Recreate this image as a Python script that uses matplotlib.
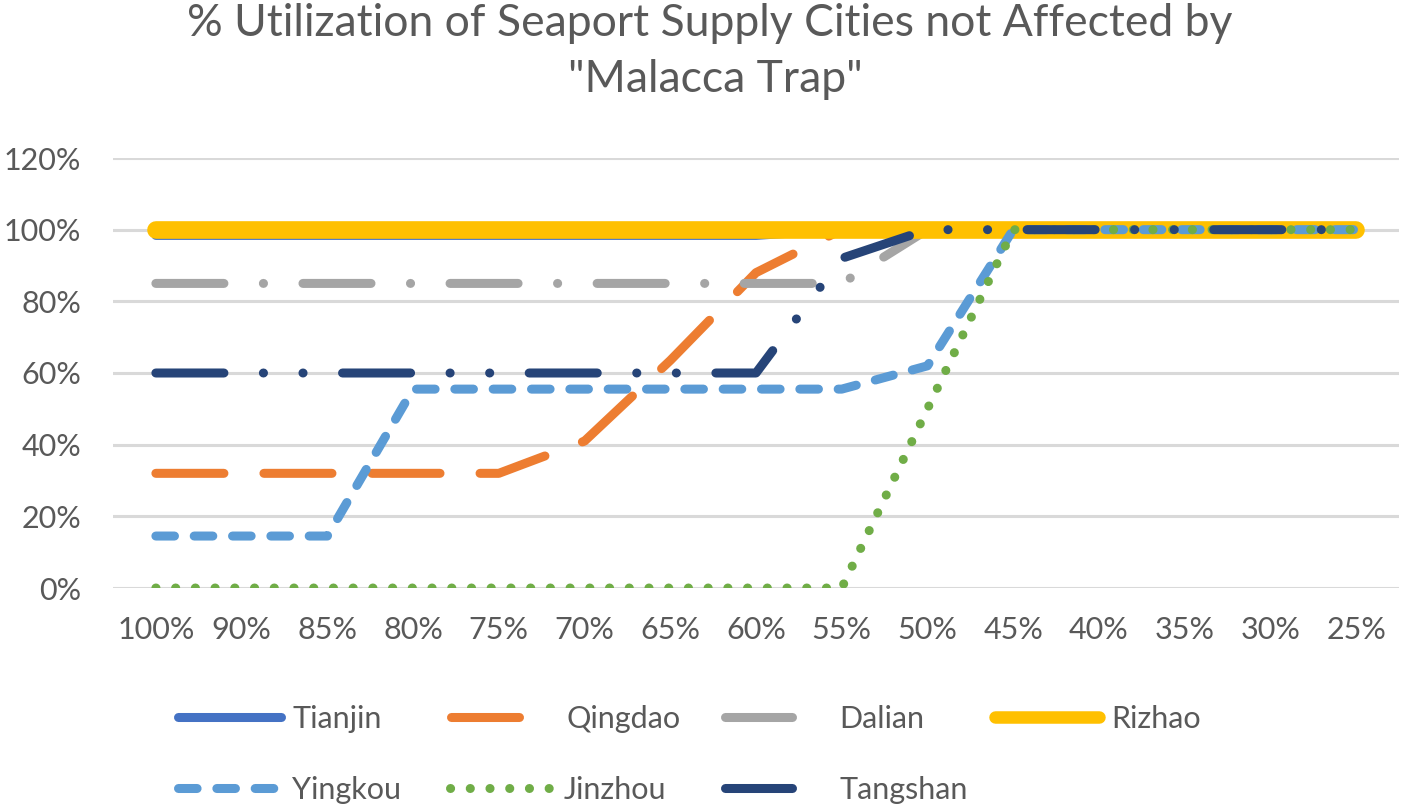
import matplotlib
matplotlib.use("Agg")
import matplotlib.pyplot as plt
from matplotlib.lines import Line2D

plt.rcParams['font.family'] = ['Lato', 'DejaVu Sans']
plt.rcParams['lines.scale_dashes'] = False

# data
categories = ["100%", "90%", "85%", "80%", "75%", "70%", "65%", "60%",
              "55%", "50%", "45%", "40%", "35%", "30%", "25%"]
tianjin  = [0.984, 0.984, 0.984, 0.984, 0.984, 0.984, 0.984, 0.984, 1, 1, 1, 1, 1, 1, 1]
qingdao  = [0.32, 0.32, 0.32, 0.32, 0.32, 0.41, 0.635, 0.88, 1, 1, 1, 1, 1, 1, 1]
dalian   = [0.85, 0.85, 0.85, 0.85, 0.85, 0.85, 0.85, 0.85, 0.85, 1, 1, 1, 1, 1, 1]
rizhao   = [1, 1, 1, 1, 1, 1, 1, 1, 1, 1, 1, 1, 1, 1, 1]
yingkou  = [0.145, 0.145, 0.145, 0.555, 0.555, 0.555, 0.555, 0.555, 0.555, 0.62, 1, 1, 1, 1, 1]
jinzhou  = [0, 0, 0, 0, 0, 0, 0, 0, 0, 0.5, 1, 1, 1, 1, 1]
tangshan = [0.6, 0.6, 0.6, 0.6, 0.6, 0.6, 0.6, 0.6, 0.92, 1, 1, 1, 1, 1, 1]

TXT = '#595959'
W, H = 1401, 805

# name, values, colour, width, dashes
styles = [
    ("Tianjin",  tianjin,  '#4472C4', 6.5, None),
    ("Qingdao",  qingdao,  '#ED7D31', 6.5, (49, 28.8)),
    ("Dalian",   dalian,   '#A5A5A5', 6.5, (49, 28.4, 0.1, 28.4)),
    ("Rizhao",   rizhao,   '#FFC000', 12.7, None),
    ("Yingkou",  yingkou,  '#5B9BD5', 6.5, (13.4, 14.2)),
    ("Jinzhou",  jinzhou,  '#70AD47', 6.5, (0.1, 14.1)),
    ("Tangshan", tangshan, '#264478', 6.5, (49, 28.4, 0.1, 28.4, 0.1, 28.4)),
]

fig = plt.figure(figsize=(W / 100, H / 100), dpi=100)
ax = fig.add_axes([113 / W, 1 - 588 / H, (1399 - 113) / W, (588 - 158) / H])

x = list(range(len(categories)))
for name, vals, col, lw, dash in styles:
    kw = dict(color=col, lw=lw, solid_capstyle='round', dash_capstyle='round',
              solid_joinstyle='round', dash_joinstyle='round', zorder=3)
    if dash:
        ax.plot(x, vals, dashes=dash, **kw)
    else:
        ax.plot(x, vals, **kw)

ax.set_xlim(-0.5, len(categories) - 0.5)
ax.set_ylim(0, 1.2)
ax.set_xticks(x)
ax.set_xticklabels(categories)
yt = [0, 0.2, 0.4, 0.6, 0.8, 1.0, 1.2]
ax.set_yticks(yt)
ax.set_yticklabels(["%d%%" % round(v * 100) for v in yt])
ax.tick_params(length=0, labelsize=22, labelcolor=TXT)
ax.tick_params(axis='x', pad=20)
ax.tick_params(axis='y', pad=23)
ax.grid(axis='y', color='#D9D9D9', lw=2.2, zorder=0)
ax.set_axisbelow(True)
for s in ax.spines.values():
    s.set_visible(False)

fig.text(710 / W, 1 - 24 / H, '% Utilization of Seaport Supply Cities not Affected by',
         ha='center', va='center', fontsize=32, color=TXT)
fig.text(715 / W, 1 - 80 / H, '"Malacca Trap"',
         ha='center', va='center', fontsize=32, color=TXT)

# legend, one key at a time to copy Excel's spacing
keys = [  # index into styles, x px, y px, handle length, text pad
    (0, 177.5, 719, 3.4, 0.35),
    (1, 450.5, 719, 2.23, 1.55),
    (2, 724.5, 719, 2.2, 1.55),
    (3, 995, 719, 3.4, 0.4),
    (4, 177.5, 790, 3.4, 0.35),
    (5, 450, 790, 3.23, 0.5),
    (6, 724.5, 790, 2.2, 1.55),
]
for i, xp, yp, hl, tp in keys:
    name, vals, col, lw, dash = styles[i]
    if name == "Rizhao":
        lw = 9
    h = Line2D([], [], color=col, lw=lw, solid_capstyle='round', dash_capstyle='round')
    if dash:
        h.set_dashes(dash)
    fig.legend([h], [name], loc='center left', bbox_to_anchor=(xp / W, 1 - yp / H),
               frameon=False, handlelength=hl, handletextpad=tp, borderpad=0,
               borderaxespad=0, fontsize=22, labelcolor=TXT)

fig.savefig("out.png", dpi=100)
